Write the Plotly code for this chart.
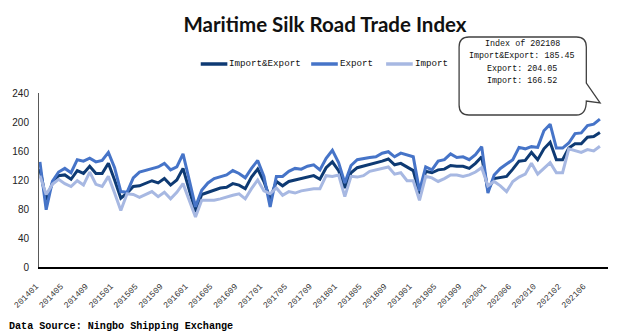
import plotly.graph_objects as go

# ---------------- data ----------------
months = []
for y in range(2014, 2022):
    for m in range(1, 13):
        if y == 2021 and m > 8:
            break
        if y == 2020 and m == 2:
            continue
        months.append(f"{y}{m:02d}")

import_export = [
    135, 92, 116, 126, 127, 121, 133, 129, 139, 129, 129, 143,   # 2014
    120, 95, 102, 111, 112, 115, 119, 116, 122, 113, 120, 136,   # 2015
    106, 76, 100, 103, 107, 109, 110, 115, 113, 108, 124, 135,   # 2016
    118, 94, 118, 112, 118, 120, 121, 124, 126, 121, 137, 145,   # 2017
    133, 109, 130, 137, 139, 141, 143, 146, 149, 141, 143, 138,  # 2018
    133, 101, 132, 130, 134, 135, 140, 139, 139, 136, 143, 152,  # 2019
    106, 122, 123, 125, 135, 146, 147, 158, 148, 163, 172,       # 2020 (no 202002)
    148, 148, 164, 170, 170, 179, 180, 185.45,                   # 2021
]
export = [
    145, 79, 118, 131, 136, 130, 148, 146, 150, 145, 147, 158,
    137, 104, 103, 123, 131, 133, 136, 138, 143, 134, 138, 156,
    120, 83, 106, 116, 122, 124, 127, 133, 129, 123, 136, 147,
    125, 83, 125, 125, 132, 136, 135, 139, 141, 134, 150, 161,
    144, 116, 140, 148, 150, 151, 152, 157, 159, 152, 157, 155,
    152, 105, 138, 134, 146, 148, 156, 151, 152, 148, 155, 166,
    102, 127, 136, 142, 148, 165, 163, 166, 165, 188, 197,
    164, 164, 171, 184, 185, 195, 197, 204.05,
]
imports = [
    126, 100, 114, 121, 115, 111, 119, 113, 131, 114, 111, 125,
    102, 78, 101, 100, 96, 100, 104, 97, 103, 94, 103, 115,
    92, 69, 92, 92, 92, 94, 97, 99, 101, 94, 108, 120,
    105, 101, 109, 99, 104, 102, 105, 107, 108, 108, 126, 125,
    127, 97, 125, 124, 126, 132, 134, 135, 138, 128, 130, 119,
    119, 92, 125, 123, 118, 122, 127, 127, 125, 127, 131, 137,
    112, 118, 112, 104, 118, 124, 128, 143, 128, 136, 144,
    130, 130, 163, 160, 158, 162, 160, 166.52,
]
tick_labels = months[::4]

series_names = ["Import&Export", "Export", "Import"]
series_colors = ["#0E3A73", "#4674C8", "#A7B8E2"]

# ---------------- figure ----------------
W, H = 626, 336
L, R, T, B = 31, 18, 93, 69
PW, PH = W - L - R, H - T - B

def px(x):
    return (x - L) / PW

def py(y):
    return (H - B - y) / PH

fig = go.Figure()
for name, vals, col in zip(series_names, [import_export, export, imports], series_colors):
    fig.add_trace(go.Scatter(x=months, y=vals, mode="lines", name=name, showlegend=False,
                             line=dict(color=col, width=3)))

# custom legend (line sample + label)
legend_pos = [195, 307, 383]
for name, col, x0 in zip(series_names, series_colors, legend_pos):
    fig.add_shape(type="line", xref="paper", yref="paper", x0=px(x0), x1=px(x0 + 27),
                  y0=py(64), y1=py(64), line=dict(color=col, width=3.5))
    fig.add_annotation(text=name, xref="paper", yref="paper", x=px(x0 + 27), y=py(64),
                       xanchor="left", yanchor="middle", showarrow=False,
                       font=dict(family="Liberation Mono", size=9.2, color="#111"))

# callout bubble
pts = [
    ("M", 467, 37), ("L", 576, 37), ("Q", 586, 37, 586, 47), ("L", 586, 83),
    ("L", 600, 103), ("L", 586, 101), ("Q", 586, 115, 576, 115), ("L", 467, 115),
    ("Q", 457, 115, 457, 105), ("L", 457, 47), ("Q", 457, 37, 467, 37),
]
path = ""
for p in pts:
    cmd = p[0]
    coords = p[1:]
    s = []
    for k in range(0, len(coords), 2):
        s.append(f"{px(coords[k]):.4f},{py(coords[k+1]):.4f}")
    path += cmd + " ".join(s) + " "
path += "Z"
fig.add_shape(type="path", path=path, xref="paper", yref="paper",
              line=dict(color="#404040", width=1.3), fillcolor="white", layer="above")

callout_lines = ["Index of 202108",
                 f"Import&Export: {import_export[-1]:.2f}",
                 f"Export: {export[-1]:.2f}",
                 f"Import: {imports[-1]:.2f}"]
for k, t in enumerate(callout_lines):
    fig.add_annotation(text=t, xref="paper", yref="paper", x=px(521), y=py(44 + 12.3 * k),
                       xanchor="center", yanchor="middle", showarrow=False,
                       font=dict(family="Liberation Mono", size=8.4, color="#111"))

fig.add_annotation(text="<b>Data Source: Ningbo Shipping Exchange</b>", xref="paper", yref="paper",
                   x=px(-1), y=py(326), xanchor="left", yanchor="middle", showarrow=False,
                   font=dict(family="Liberation Mono", size=10.1, color="#000"))

fig.update_layout(
    width=W, height=H, autosize=False,
    margin=dict(l=L, r=R, t=T, b=B, pad=0),
    paper_bgcolor="white", plot_bgcolor="white",
    showlegend=False,
    title=dict(text="<b>Maritime Silk Road Trade Index</b>", x=325 / W, xanchor="center",
               y=1 - 25 / H, yanchor="middle",
               font=dict(family="Lato", size=20.5, color="#111")),
    xaxis=dict(type="category", range=[-0.15, 91.3], tickvals=tick_labels, ticktext=tick_labels,
               tickangle=-45, showgrid=False, zeroline=False, showline=True, linecolor="#000",
               linewidth=2, ticks="", ticklabelstandoff=9, ticklabelshift=-4,
               tickfont=dict(family="Liberation Mono", size=8.5, color="#333")),
    yaxis=dict(range=[0, 240], tickvals=[0, 40, 80, 120, 160, 200, 240], showgrid=False,
               zeroline=False, showline=True, linecolor="#595959", linewidth=1, ticks="",
               ticklabelstandoff=7,
               tickfont=dict(family="Liberation Sans", size=10, color="#222")),
)

fig.write_html("out.html")
